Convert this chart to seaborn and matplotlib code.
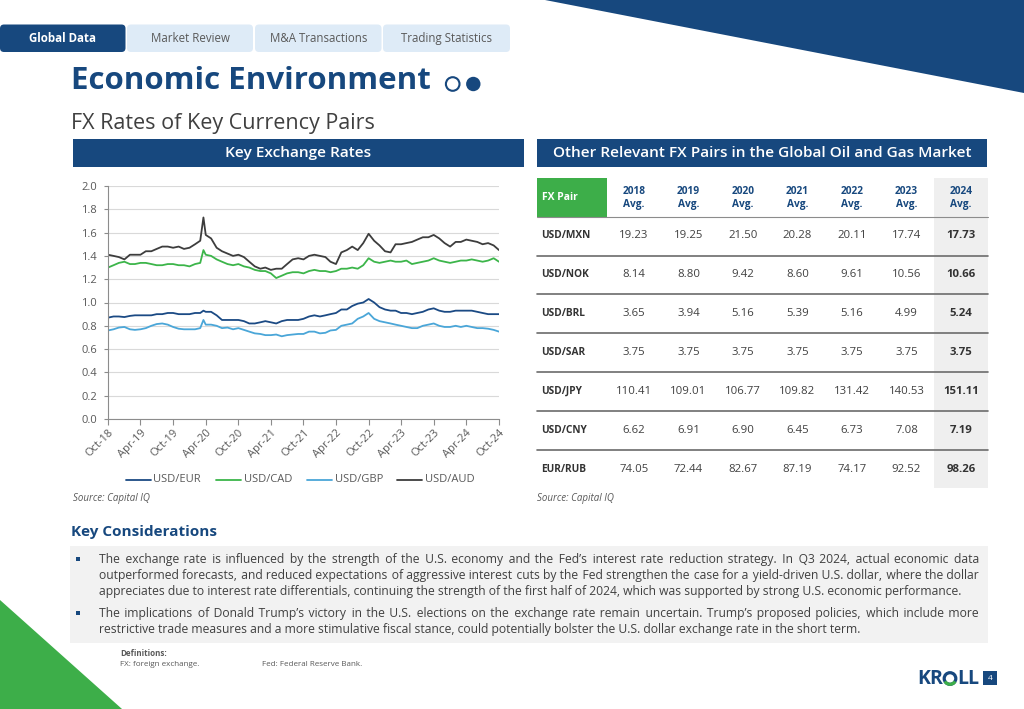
import numpy as np
import pandas as pd
import matplotlib
matplotlib.use("Agg")
import matplotlib.pyplot as plt
from matplotlib.patches import Polygon, FancyBboxPatch, Rectangle, Circle, Arc
import seaborn as sns

# ---- data ----
# monthly readings Oct-18 .. Oct-24, plus one extra reading at the Mar-2020 spike
month_starts = list(pd.date_range("2018-10-01", "2024-10-01", freq="MS"))
dates = month_starts[:18] + [pd.Timestamp("2020-03-19")] + month_starts[18:]

usd_eur = [0.87, 0.88, 0.88, 0.875, 0.885, 0.89, 0.89, 0.89, 0.89, 0.90, 0.90, 0.91,
           0.91, 0.90, 0.90, 0.90, 0.91, 0.91, 0.93, 0.92, 0.92, 0.89, 0.85, 0.85,
           0.85, 0.85, 0.84, 0.82, 0.82, 0.83, 0.84, 0.83, 0.82, 0.84, 0.85, 0.85,
           0.85, 0.86, 0.88, 0.89, 0.88, 0.89, 0.90, 0.91, 0.94, 0.94, 0.97, 0.99,
           1.00, 1.03, 1.00, 0.96, 0.94, 0.93, 0.93, 0.91, 0.91, 0.90, 0.91, 0.92,
           0.94, 0.95, 0.93, 0.92, 0.92, 0.93, 0.93, 0.93, 0.93, 0.92, 0.91, 0.90,
           0.90, 0.90]
usd_cad = [1.30, 1.32, 1.34, 1.35, 1.33, 1.33, 1.34, 1.34, 1.33, 1.32, 1.32, 1.33,
           1.33, 1.32, 1.32, 1.31, 1.33, 1.34, 1.45, 1.41, 1.40, 1.37, 1.35, 1.33,
           1.32, 1.33, 1.31, 1.30, 1.28, 1.27, 1.27, 1.25, 1.21, 1.23, 1.25, 1.26,
           1.26, 1.25, 1.27, 1.28, 1.27, 1.27, 1.26, 1.27, 1.29, 1.29, 1.30, 1.29,
           1.32, 1.38, 1.35, 1.34, 1.35, 1.36, 1.35, 1.35, 1.36, 1.33, 1.34, 1.35,
           1.36, 1.38, 1.36, 1.35, 1.34, 1.35, 1.36, 1.36, 1.37, 1.36, 1.35, 1.36,
           1.38, 1.35]
usd_gbp = [0.76, 0.77, 0.785, 0.79, 0.77, 0.765, 0.77, 0.78, 0.80, 0.815, 0.82, 0.81,
           0.79, 0.775, 0.77, 0.77, 0.77, 0.78, 0.85, 0.81, 0.81, 0.80, 0.78, 0.785,
           0.77, 0.78, 0.765, 0.75, 0.735, 0.73, 0.72, 0.72, 0.725, 0.71, 0.72, 0.725,
           0.73, 0.73, 0.75, 0.75, 0.735, 0.74, 0.76, 0.765, 0.80, 0.81, 0.82, 0.86,
           0.88, 0.91, 0.86, 0.84, 0.83, 0.82, 0.81, 0.80, 0.79, 0.78, 0.78, 0.80,
           0.81, 0.82, 0.80, 0.79, 0.79, 0.80, 0.79, 0.80, 0.79, 0.78, 0.78, 0.775,
           0.765, 0.75]
usd_aud = [1.41, 1.40, 1.39, 1.37, 1.41, 1.41, 1.41, 1.44, 1.44, 1.46, 1.48, 1.48,
           1.47, 1.48, 1.46, 1.47, 1.50, 1.53, 1.73, 1.58, 1.55, 1.47, 1.44, 1.42,
           1.40, 1.41, 1.39, 1.35, 1.31, 1.29, 1.30, 1.28, 1.29, 1.29, 1.33, 1.37,
           1.38, 1.37, 1.40, 1.41, 1.40, 1.39, 1.35, 1.33, 1.43, 1.45, 1.48, 1.45,
           1.51, 1.59, 1.53, 1.49, 1.44, 1.43, 1.50, 1.50, 1.51, 1.52, 1.54, 1.56,
           1.56, 1.58, 1.55, 1.51, 1.48, 1.52, 1.52, 1.54, 1.53, 1.52, 1.50, 1.51,
           1.49, 1.45]

pair_names = ["USD/EUR", "USD/CAD", "USD/GBP", "USD/AUD"]
pair_colors = ["#1b4a84", "#3cb54a", "#4aa6d8", "#3d3d3d"]

fx_pairs = ["USD/MXN", "USD/NOK", "USD/BRL", "USD/SAR", "USD/JPY", "USD/CNY", "EUR/RUB"]
avg_years = ["2018", "2019", "2020", "2021", "2022", "2023", "2024"]
mxn = [19.23, 19.25, 21.50, 20.28, 20.11, 17.74, 17.73]
nok = [8.14, 8.80, 9.42, 8.60, 9.61, 10.56, 10.66]
brl = [3.65, 3.94, 5.16, 5.39, 5.16, 4.99, 5.24]
sar = [3.75, 3.75, 3.75, 3.75, 3.75, 3.75, 3.75]
jpy = [110.41, 109.01, 106.77, 109.82, 131.42, 140.53, 151.11]
cny = [6.62, 6.91, 6.90, 6.45, 6.73, 7.08, 7.19]
rub = [74.05, 72.44, 82.67, 87.19, 74.17, 92.52, 98.26]
table_rows = [mxn, nok, brl, sar, jpy, cny, rub]

para1 = ["The exchange rate is influenced by the strength of the U.S. economy and the Fed\u2019s interest rate reduction strategy. In Q3 2024, actual economic data",
         "outperformed forecasts, and reduced expectations of aggressive interest cuts by the Fed strengthen the case for a yield-driven U.S. dollar, where the dollar",
         "appreciates due to interest rate differentials, continuing the strength of the first half of 2024, which was supported by strong U.S. economic performance."]
para2 = ["The implications of Donald Trump\u2019s victory in the U.S. elections on the exchange rate remain uncertain. Trump\u2019s proposed policies, which include more",
         "restrictive trade measures and a more stimulative fiscal stance, could potentially bolster the U.S. dollar exchange rate in the short term."]

NAVY = "#17487e"
GREEN = "#3dae49"
TXT = "#404040"
GRAY = "#595959"

sns.set_theme(style="white")
plt.rcParams["font.family"] = ["Open Sans", "DejaVu Sans"]

fig = plt.figure(figsize=(10.24, 7.09), dpi=100)
bg = fig.add_axes([0, 0, 1, 1])
bg.set_xlim(0, 1024)
bg.set_ylim(709, 0)
bg.axis("off")
rend = fig.canvas.get_renderer()

# ---- slide decorations ----
bg.add_patch(Polygon([(545, 0), (1024, 0), (1024, 93)], color=NAVY, lw=0))
bg.add_patch(Polygon([(0, 600), (122, 709), (0, 709)], color=GREEN, lw=0))

tabs = [("Global Data", 0, 125.5), ("Market Review", 127, 253), ("M&A Transactions", 255, 381.5), ("Trading Statistics", 383, 510)]
for i, (name, x0, x1) in enumerate(tabs):
    fc = NAVY if i == 0 else "#deebf7"
    bg.add_patch(FancyBboxPatch((x0, 24.5), x1 - x0, 27.5, boxstyle="round,pad=0,rounding_size=4", fc=fc, ec="none"))
    bg.text((x0 + x1) / 2, 38.5, name, ha="center", va="center", fontsize=8.3,
            color="white" if i == 0 else GRAY, fontweight="bold" if i == 0 else "normal")

bg.text(71, 81, "Economic Environment", fontsize=22.5, fontweight="bold", color=NAVY, va="center", ha="left")
bg.add_patch(Circle((452.7, 84), 6.8, fill=False, ec=NAVY, lw=1.5))
bg.add_patch(Circle((473.3, 84), 7.2, fc=NAVY, ec="none"))
bg.text(71, 123, "FX Rates of Key Currency Pairs", fontsize=15.5, color=TXT, va="center", ha="left")

for (x0, x1, label) in [(73, 524, "Key Exchange Rates"), (537, 987, "Other Relevant FX Pairs in the Global Oil and Gas Market")]:
    bg.add_patch(Rectangle((x0, 138.5), x1 - x0, 28.5, fc=NAVY, ec="none"))
    bg.text((x0 + x1) / 2, 153, label, ha="center", va="center", fontsize=11.1, color="white", fontweight="semibold")

# ---- line chart ----
ax = fig.add_axes([108 / 1024, 1 - 419 / 709, 391 / 1024, 233 / 709])
ax.set_facecolor("none")
df = pd.DataFrame({"date": dates * 4,
                   "rate": usd_eur + usd_cad + usd_gbp + usd_aud,
                   "pair": sum([[p] * len(dates) for p in pair_names], [])})
sns.lineplot(data=df, x="date", y="rate", hue="pair", palette=dict(zip(pair_names, pair_colors)),
             ax=ax, linewidth=1.3, legend=False)
ax.set_xlim(dates[0], dates[-1])
ax.set_ylim(0, 2.0)
ax.set_yticks(np.arange(0, 2.01, 0.2))
ax.set_yticklabels([f"{v:.1f}" for v in np.arange(0, 2.01, 0.2)])
xt = pd.date_range("2018-10-01", "2024-10-01", freq="6MS")
ax.set_xticks(xt)
ax.set_xticklabels([d.strftime("%b-%y") for d in xt], rotation=45, ha="right", rotation_mode="anchor")
ax.set_xlabel("")
ax.set_ylabel("")
ax.grid(axis="y", color="#d9d9d9", lw=0.8)
ax.set_axisbelow(True)
for s in ["top", "right"]:
    ax.spines[s].set_visible(False)
for s in ["left", "bottom"]:
    ax.spines[s].set_color("#8c8c8c")
    ax.spines[s].set_linewidth(0.8)
ax.tick_params(axis="x", length=4, width=0.8, color="#8c8c8c", labelsize=8, labelcolor=GRAY, pad=2, direction="out", bottom=True)
ax.tick_params(axis="y", length=3, width=0.8, color="#8c8c8c", labelsize=8, labelcolor=GRAY, pad=5, direction="out", left=True)

for i, (name, col) in enumerate(zip(pair_names, pair_colors)):
    lx = 125.5 + i * 90.5
    bg.plot([lx, lx + 25], [479.5, 479.5], color=col, lw=1.3)
    bg.text(lx + 28, 479.5, name, fontsize=8, color=GRAY, va="center", ha="left")

bg.text(73, 499, "Source: Capital IQ", fontsize=7, style="italic", color=GRAY, va="center")
bg.text(537, 499, "Source: Capital IQ", fontsize=7, style="italic", color=GRAY, va="center")

# ---- table ----
bg.add_patch(Rectangle((934, 178), 54, 310, fc="#efefef", ec="none"))
bg.add_patch(Rectangle((537, 178), 70, 38.5, fc=GREEN, ec="none"))
bg.text(542, 197, "FX Pair", fontsize=7.5, color="white", fontweight="bold", va="center")
bg.plot([537, 988], [217, 217], color="#8c8c8c", lw=0.8)
for c, yr in enumerate(avg_years):
    cx = 634 + c * 54.5
    bg.text(cx, 191, yr, fontsize=7.3, color=NAVY, fontweight="bold", ha="center", va="center")
    bg.text(cx, 204, "Avg.", fontsize=7.3, color=NAVY, fontweight="bold", ha="center", va="center")
for r, (pair, vals) in enumerate(zip(fx_pairs, table_rows)):
    cy = 236 + r * 38.9
    bg.text(541, cy, pair, fontsize=7.3, color="#333333", fontweight="bold", va="center")
    for c, v in enumerate(vals):
        bg.text(634 + c * 54.5, cy, f"{v:.2f}", fontsize=8.2, ha="center", va="center",
                color="#333333" if c == 6 else TXT, fontweight="bold" if c == 6 else "normal")
    if r < len(fx_pairs) - 1:
        bg.plot([537, 988], [cy + 19.5, cy + 19.5], color="#6b6b6b", lw=1.2)

# ---- key considerations ----
bg.text(71, 532, "Key Considerations", fontsize=11, fontweight="bold", color=NAVY, va="center")
bg.add_patch(Rectangle((70, 546), 918, 97, fc="#f2f2f2", ec="none"))


def width_of(s, size):
    t = bg.text(0, 0, s, fontsize=size)
    w = t.get_window_extent(rend).width
    t.remove()
    return w


base = width_of(para1[2], 10)
psize = 10 * 864 / base
x_left, x_right = 99, 979
HAIR = "\u200a"
hair_w = (width_of("a" + HAIR * 20 + "a", psize) - width_of("aa", psize)) / 20


def justify(s):
    # pad the gaps with hair spaces so the line reaches the right margin
    words = s.split(" ")
    extra = (x_right - x_left) - width_of(s, psize)
    if extra <= 0 or hair_w <= 0:
        return s
    per_gap = extra / (len(words) - 1)
    out, used = words[0], 0
    for i, w in enumerate(words[1:], start=1):
        k = int(round(per_gap * i / hair_w)) - used
        used += k
        out += " " + HAIR * k + w
    return out


for para, y0 in [(para1, 559), (para2, 613.3)]:
    bg.add_patch(Rectangle((75.5, y0 - 2.5), 4, 4, fc=NAVY, ec="none"))
    for j, line in enumerate(para):
        s = justify(line) if j < len(para) - 1 else line
        bg.text(x_left, y0 + j * 16.5, s, fontsize=psize, color=TXT, va="center", ha="left")

bg.text(120, 653, "Definitions:", fontsize=5.8, fontweight="bold", color=GRAY, va="center")
bg.text(120, 664, "FX: foreign exchange.", fontsize=5.8, color=GRAY, va="center")
bg.text(262, 664, "Fed: Federal Reserve Bank.", fontsize=5.8, color=GRAY, va="center")

# ---- logo ----
bg.text(917, 678.5, "KR", fontsize=14, fontweight="bold", color=NAVY, va="center", ha="left")
bg.add_patch(Circle((950, 678.5), 5.8, fill=False, ec=NAVY, lw=2.3))
bg.add_patch(Arc((950, 678.5), 11.6, 11.6, theta1=30, theta2=150, ec=GREEN, lw=2.3))
bg.text(957.5, 678.5, "LL", fontsize=14, fontweight="bold", color=NAVY, va="center", ha="left")
bg.add_patch(Rectangle((983, 671), 14, 14, fc=NAVY, ec="none"))
bg.text(990, 678.5, "4", fontsize=6, color="white", ha="center", va="center")

fig.savefig("out.png", dpi=100)
